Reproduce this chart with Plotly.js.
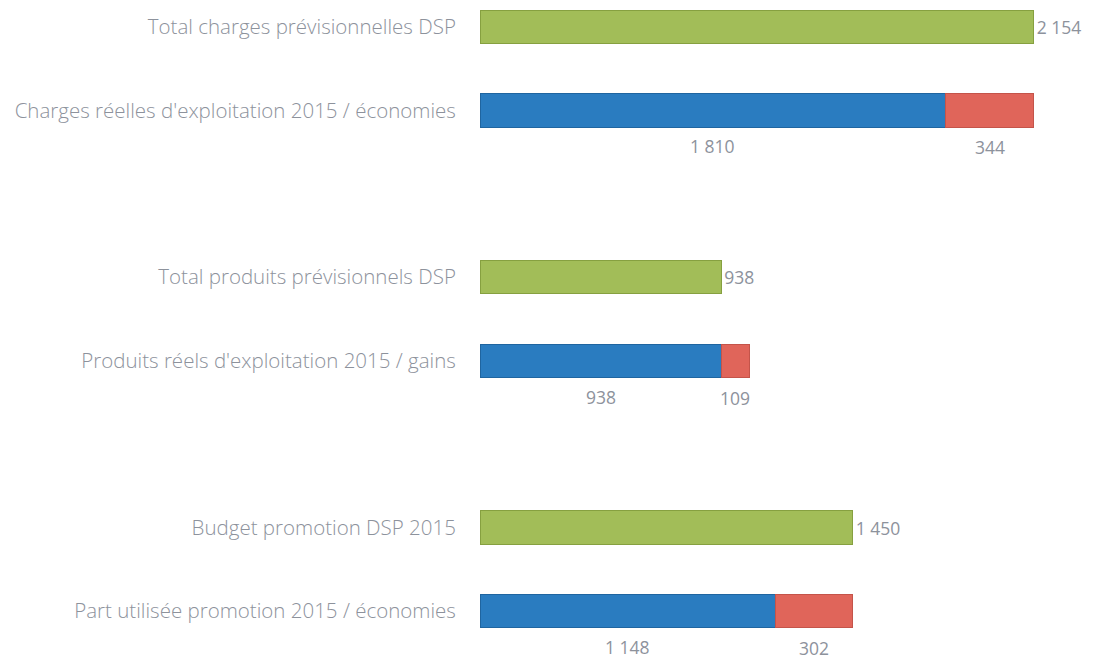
<!DOCTYPE html>
<html>
<head>
<meta charset="utf-8">
<script src="https://cdn.plot.ly/plotly-3.0.1.min.js"></script>
<style>html,body{margin:0;padding:0;background:#fff;}#chart{width:1108px;height:665px;}</style>
</head>
<body>
<div id="chart"></div>
<script>
// Row labels
const prevLabels = [
  "Total charges prévisionnelles DSP",
  "Total produits prévisionnels DSP",
  "Budget promotion DSP 2015"
];
const realLabels = [
  "Charges réelles d'exploitation 2015 / économies",
  "Produits réels d'exploitation 2015 / gains",
  "Part utilisée promotion 2015 / économies"
];
// Values (k€)
const prevision = [2154, 938, 1450];
const reel = [1810, 938, 1148];
const ecart = [344, 109, 302];

const categoryOrder = [prevLabels[0], realLabels[0], " ", prevLabels[1], realLabels[1], "  ", prevLabels[2], realLabels[2]];

const txtColor = "#8d929c";
const fontFam = "'Open Sans', Lato, sans-serif";

const traces = [
  {
    type: "bar", orientation: "h", name: "Prévisionnel",
    y: prevLabels, x: prevision, width: 0.4,
    marker: {color: "#a2bd58", line: {color: "#86a040", width: 1}},
    text: prevision, texttemplate: "%{x:,}", textposition: "outside",
    textfont: {color: txtColor, size: 17.5, family: fontFam},
    cliponaxis: false, hoverinfo: "x+y"
  },
  {
    type: "bar", orientation: "h", name: "Réel",
    y: realLabels, x: reel, width: 0.4,
    marker: {color: "#2a7cc0", line: {color: "#1f65a0", width: 1}},
    hoverinfo: "x+y"
  },
  {
    type: "bar", orientation: "h", name: "Écart",
    y: realLabels, x: ecart, width: 0.4,
    marker: {color: "#e0655a", line: {color: "#c4544a", width: 1}},
    hoverinfo: "x+y"
  }
];

const fmt = v => String(v).replace(/\B(?=(\d{3})+(?!\d))/g, " ");
const annotations = [];
realLabels.forEach((lab, i) => {
  annotations.push({
    x: reel[i] / 2, y: lab, xref: "x", yref: "y",
    text: fmt(reel[i]), showarrow: false, yshift: -36,
    font: {color: txtColor, size: 17.5, family: fontFam}
  });
  annotations.push({
    x: reel[i] + ecart[i] / 2, y: lab, xref: "x", yref: "y",
    text: fmt(ecart[i]), showarrow: false, yshift: -37,
    font: {color: txtColor, size: 17.5, family: fontFam}
  });
});

const layout = {
  width: 1108, height: 665,
  margin: {l: 480, r: 11, t: 2, b: 29},
  paper_bgcolor: "#ffffff", plot_bgcolor: "#ffffff",
  barmode: "stack",
  separators: ", ",
  showlegend: false,
  xaxis: {range: [0, 2400], visible: false, showgrid: false, zeroline: false, fixedrange: true},
  yaxis: {
    type: "category", categoryorder: "array", categoryarray: categoryOrder,
    range: [7.3, -0.3], showgrid: false, zeroline: false, showline: false,
    ticks: "outside", ticklen: 19, tickcolor: "rgba(0,0,0,0)",
    tickfont: {color: txtColor, size: 20.5, family: fontFam, weight: 300}, fixedrange: true
  },
  annotations: annotations,
  font: {family: fontFam}
};

Plotly.newPlot("chart", traces, layout, {displayModeBar: false, staticPlot: true});
</script>
</body>
</html>
